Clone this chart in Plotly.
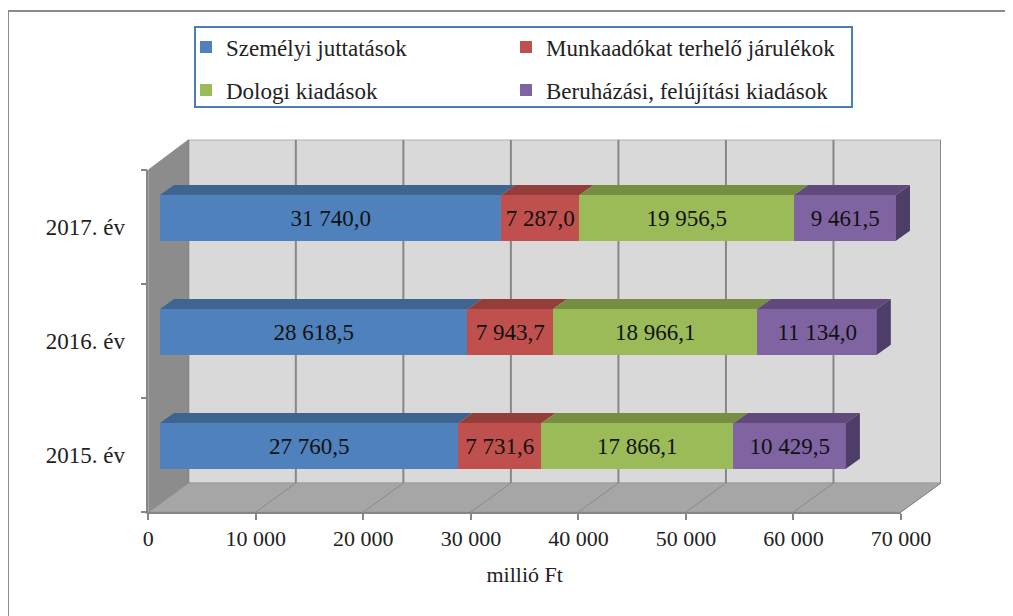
import plotly.graph_objects as go

# ---------------- data ----------------
years = ["2015. év", "2016. év", "2017. év"]
series_names = [
    "Személyi juttatások",
    "Munkaadókat terhelő járulékok",
    "Dologi kiadások",
    "Beruházási, felújítási kiadások",
]
szemelyi = [27760.5, 28618.5, 31740.0]
munkaado = [7731.6, 7943.7, 7287.0]
dologi = [17866.1, 18966.1, 19956.5]
beruhazas = [10429.5, 11134.0, 9461.5]
x_ticks = [0, 10000, 20000, 30000, 40000, 50000, 60000, 70000]
x_title = "millió Ft"

series_values = [szemelyi, munkaado, dologi, beruhazas]

# ---------------- style ----------------
front_colors = ["#4f81bd", "#c0504d", "#9bbb59", "#8064a2"]
top_colors = ["#3d6590", "#943e3c", "#768e42", "#604a7b"]
side_color = "#4e3d66"
FONT = "'Liberation Serif', 'Times New Roman', serif"
FS = 22
FS_BIG = 23

W, H = 1013, 616
PAGE_OFF = 8          # body margin of the html page
ML, MR = 100, 60
PW = W - ML - MR


def fx(px):
    return (px - PAGE_OFF - ML) / PW


def fy(py):
    return 1 - (py - PAGE_OFF) / H


XMAX = 70000
FRONT_X0, FRONT_X1 = 148.3, 901.0       # front axis pixels
S = (FRONT_X1 - FRONT_X0) / XMAX         # px per unit
BAR_X0 = 160.0                           # bar zero pixel
BACK_DX = 40.0                           # depth shift in px (x)
WALL_TOP, FLOOR_BACK, FLOOR_FRONT, SIDE_TOP = 140.0, 483.0, 512.0, 170.0
BACK_X1 = FRONT_X1 + BACK_DX

# bar x-axis spans wall area, zero placed at BAR_X0
bx_range = [(FRONT_X0 - BAR_X0) / S, (BACK_X1 - BAR_X0) / S]


def u(px):  # pixel -> bar axis units
    return (px - BAR_X0) / S


front_off = u(FRONT_X0)
back_off = u(FRONT_X0 + BACK_DX)

ypos = list(range(len(years)))
Y_PX = (FLOOR_FRONT - SIDE_TOP) / len(years)
BAR_W = 0.40
BAR_SHIFT = 0.08
DX = 14 / S
DY = 10 / Y_PX

# legend slots (2 columns x 2 rows), pixel anchors
legend_slots = [(186, 47), (506, 47), (186, 90), (506, 90)]
legend_ids = ["legend", "legend2", "legend3", "legend4"]

fig = go.Figure()

# 3D top / side faces computed from data
cum = [0.0] * len(years)
for si, vals in enumerate(series_values):
    for yi, v in enumerate(vals):
        x0 = cum[yi]
        x1 = x0 + v
        yb = ypos[yi] - BAR_W / 2 + BAR_SHIFT
        yt = yb + BAR_W
        fig.add_trace(go.Scatter(
            x=[x0, x1, x1 + DX, x0 + DX, x0],
            y=[yt, yt, yt + DY, yt + DY, yt],
            fill="toself", fillcolor=top_colors[si], mode="lines",
            line=dict(width=0, color=top_colors[si]),
            hoverinfo="skip", showlegend=False))
        if si == len(series_values) - 1:
            fig.add_trace(go.Scatter(
                x=[x1, x1 + DX, x1 + DX, x1, x1],
                y=[yb, yb + DY, yt + DY, yt, yb],
                fill="toself", fillcolor=side_color, mode="lines",
                line=dict(width=0, color=side_color),
                hoverinfo="skip", showlegend=False))
    cum = [c + v for c, v in zip(cum, vals)]

for si, vals in enumerate(series_values):
    fig.add_trace(go.Bar(
        name=series_names[si], y=ypos, x=vals, orientation="h",
        legend=legend_ids[si],
        width=BAR_W, offset=-BAR_W / 2 + BAR_SHIFT,
        marker=dict(color=front_colors[si], line=dict(width=0)),
        texttemplate="%{x:,.1f}", textposition="inside",
        insidetextanchor="middle", textangle=0, constraintext="none",
        textfont=dict(family=FONT, size=FS_BIG, color="#111111"),
        xaxis="x", yaxis="y"))

# dummy trace so that the front axis is drawn
fig.add_trace(go.Scatter(x=[], y=[], xaxis="x2", yaxis="y",
                         showlegend=False, hoverinfo="skip"))

shapes = []
# back wall
shapes.append(dict(type="rect", xref="x", yref="paper", layer="below",
                   x0=back_off, x1=back_off + XMAX,
                   y0=fy(FLOOR_BACK), y1=fy(WALL_TOP),
                   fillcolor="#d9d9d9", line=dict(color="#b0b0b0", width=1)))
# side wall
shapes.append(dict(type="path", xref="x", yref="paper", layer="below",
                   path=f"M {front_off},{fy(SIDE_TOP)} L {back_off},{fy(WALL_TOP)} "
                        f"L {back_off},{fy(FLOOR_BACK)} L {front_off},{fy(FLOOR_FRONT)} Z",
                   fillcolor="#8c8c8c", line=dict(color="#8c8c8c", width=1)))
# floor
shapes.append(dict(type="path", xref="x", yref="paper", layer="below",
                   path=f"M {front_off},{fy(FLOOR_FRONT)} L {back_off},{fy(FLOOR_BACK)} "
                        f"L {back_off + XMAX},{fy(FLOOR_BACK)} L {front_off + XMAX},{fy(FLOOR_FRONT)} Z",
                   fillcolor="#a6a6a6", line=dict(color="#9a9a9a", width=1)))
for v in x_ticks:
    # back wall grid
    shapes.append(dict(type="line", xref="x", yref="paper", layer="below",
                       x0=back_off + v, x1=back_off + v,
                       y0=fy(WALL_TOP), y1=fy(FLOOR_BACK),
                       line=dict(color="#878787", width=2)))
    # floor grid
    shapes.append(dict(type="line", xref="x", yref="paper", layer="below",
                       x0=front_off + v, x1=back_off + v,
                       y0=fy(FLOOR_FRONT), y1=fy(FLOOR_BACK),
                       line=dict(color="#8a8a8a", width=1)))
# outer chart border (clipped by page)
shapes.append(dict(type="rect", xref="paper", yref="paper", layer="below",
                   x0=fx(8), x1=fx(W + 40), y0=fy(H + 40), y1=fy(11),
                   fillcolor="rgba(0,0,0,0)", line=dict(color="#8c8c8c", width=2)))
# legend frame
shapes.append(dict(type="rect", xref="paper", yref="paper", layer="below",
                   x0=fx(195), x1=fx(852), y0=fy(107), y1=fy(27),
                   fillcolor="white", line=dict(color="#4a7ebb", width=2)))

legend_common = dict(
    orientation="h", traceorder="normal", xanchor="left", yanchor="middle",
    bgcolor="rgba(0,0,0,0)", borderwidth=0,
    font=dict(family=FONT, size=FS_BIG, color="#222222"),
    itemwidth=30,
)
legend_layout = {}
for lid, (lx, ly) in zip(legend_ids, legend_slots):
    legend_layout[lid] = dict(x=fx(lx), y=fy(ly), **legend_common)

fig.update_layout(
    width=W, height=H,
    margin=dict(l=ML, r=MR, t=0, b=0),
    paper_bgcolor="white", plot_bgcolor="rgba(0,0,0,0)",
    barmode="stack", bargap=0,
    separators=", ",
    font=dict(family=FONT, size=FS, color="#222222"),
    shapes=shapes,
    showlegend=True,
    **legend_layout,
    xaxis=dict(domain=[fx(FRONT_X0), fx(BACK_X1)], range=bx_range,
               visible=False, anchor="y", fixedrange=True),
    xaxis2=dict(domain=[fx(FRONT_X0), fx(FRONT_X1)], range=[0, XMAX],
                anchor="y", side="bottom",
                tickvals=x_ticks, tickformat=",d",
                ticks="outside", ticklen=6, tickcolor="#868686", tickwidth=1.5,
                showline=True, linecolor="#868686", linewidth=1.5,
                showgrid=False, zeroline=False,
                tickfont=dict(family=FONT, size=FS, color="#222222"),
                title=dict(text=x_title, standoff=16,
                           font=dict(family=FONT, size=FS, color="#222222"))),
    yaxis=dict(domain=[fy(FLOOR_FRONT), fy(SIDE_TOP)], range=[-0.5, len(years) - 0.5],
               anchor="x", tickvals=ypos, ticktext=years,
               ticks="outside", ticklen=17, tickcolor="rgba(0,0,0,0)",
               showline=True, linecolor="#868686", linewidth=1.5,
               showgrid=False, zeroline=False,
               minor=dict(tickvals=[i - 0.5 for i in range(len(years) + 1)],
                          ticks="outside", ticklen=6, tickcolor="#868686",
                          tickwidth=1.5, showgrid=False),
               tickfont=dict(family=FONT, size=FS_BIG, color="#222222")),
)

fig.write_html("out.html")
